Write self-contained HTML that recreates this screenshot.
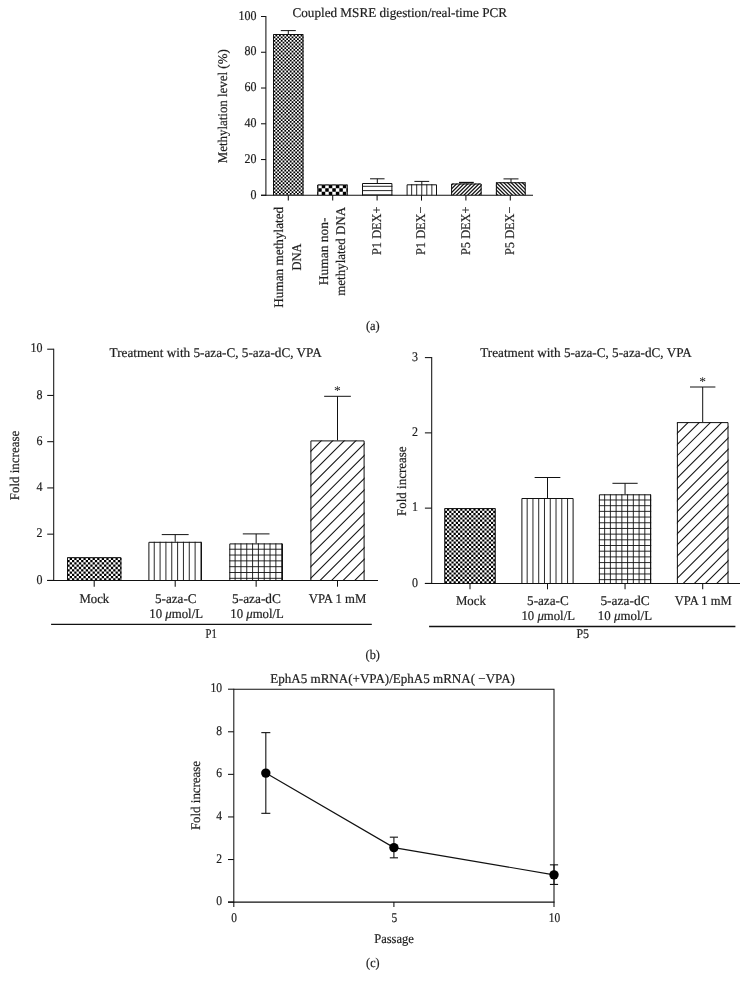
<!DOCTYPE html>
<html><head><meta charset="utf-8"><title>Figure</title>
<style>html,body{margin:0;padding:0;background:#fff}svg{display:block;will-change:transform}text{text-rendering:geometricPrecision;stroke:#1c1c1c;stroke-width:0.2px;paint-order:stroke}</style>
</head><body>
<svg width="749" height="990" viewBox="0 0 749 990" font-family="'Liberation Serif', serif" fill="#1c1c1c">
<rect width="749" height="990" fill="#fff"/>
<clipPath id="c1"><rect x="273.00" y="34.00" width="30.50" height="161.30"/></clipPath>
<g clip-path="url(#c1)">
<rect x="273.00" y="34.00" width="30.50" height="161.30" fill="#fff"/>
<line x1="271.80" y1="31.90" x2="305.30" y2="31.90" stroke="#000" stroke-width="1.800" stroke-dasharray="1.800 1.800"/>
<line x1="270.00" y1="33.70" x2="305.30" y2="33.70" stroke="#000" stroke-width="1.800" stroke-dasharray="1.800 1.800"/>
<line x1="271.80" y1="35.50" x2="305.30" y2="35.50" stroke="#000" stroke-width="1.800" stroke-dasharray="1.800 1.800"/>
<line x1="270.00" y1="37.30" x2="305.30" y2="37.30" stroke="#000" stroke-width="1.800" stroke-dasharray="1.800 1.800"/>
<line x1="271.80" y1="39.10" x2="305.30" y2="39.10" stroke="#000" stroke-width="1.800" stroke-dasharray="1.800 1.800"/>
<line x1="270.00" y1="40.90" x2="305.30" y2="40.90" stroke="#000" stroke-width="1.800" stroke-dasharray="1.800 1.800"/>
<line x1="271.80" y1="42.70" x2="305.30" y2="42.70" stroke="#000" stroke-width="1.800" stroke-dasharray="1.800 1.800"/>
<line x1="270.00" y1="44.50" x2="305.30" y2="44.50" stroke="#000" stroke-width="1.800" stroke-dasharray="1.800 1.800"/>
<line x1="271.80" y1="46.30" x2="305.30" y2="46.30" stroke="#000" stroke-width="1.800" stroke-dasharray="1.800 1.800"/>
<line x1="270.00" y1="48.10" x2="305.30" y2="48.10" stroke="#000" stroke-width="1.800" stroke-dasharray="1.800 1.800"/>
<line x1="271.80" y1="49.90" x2="305.30" y2="49.90" stroke="#000" stroke-width="1.800" stroke-dasharray="1.800 1.800"/>
<line x1="270.00" y1="51.70" x2="305.30" y2="51.70" stroke="#000" stroke-width="1.800" stroke-dasharray="1.800 1.800"/>
<line x1="271.80" y1="53.50" x2="305.30" y2="53.50" stroke="#000" stroke-width="1.800" stroke-dasharray="1.800 1.800"/>
<line x1="270.00" y1="55.30" x2="305.30" y2="55.30" stroke="#000" stroke-width="1.800" stroke-dasharray="1.800 1.800"/>
<line x1="271.80" y1="57.10" x2="305.30" y2="57.10" stroke="#000" stroke-width="1.800" stroke-dasharray="1.800 1.800"/>
<line x1="270.00" y1="58.90" x2="305.30" y2="58.90" stroke="#000" stroke-width="1.800" stroke-dasharray="1.800 1.800"/>
<line x1="271.80" y1="60.70" x2="305.30" y2="60.70" stroke="#000" stroke-width="1.800" stroke-dasharray="1.800 1.800"/>
<line x1="270.00" y1="62.50" x2="305.30" y2="62.50" stroke="#000" stroke-width="1.800" stroke-dasharray="1.800 1.800"/>
<line x1="271.80" y1="64.30" x2="305.30" y2="64.30" stroke="#000" stroke-width="1.800" stroke-dasharray="1.800 1.800"/>
<line x1="270.00" y1="66.10" x2="305.30" y2="66.10" stroke="#000" stroke-width="1.800" stroke-dasharray="1.800 1.800"/>
<line x1="271.80" y1="67.90" x2="305.30" y2="67.90" stroke="#000" stroke-width="1.800" stroke-dasharray="1.800 1.800"/>
<line x1="270.00" y1="69.70" x2="305.30" y2="69.70" stroke="#000" stroke-width="1.800" stroke-dasharray="1.800 1.800"/>
<line x1="271.80" y1="71.50" x2="305.30" y2="71.50" stroke="#000" stroke-width="1.800" stroke-dasharray="1.800 1.800"/>
<line x1="270.00" y1="73.30" x2="305.30" y2="73.30" stroke="#000" stroke-width="1.800" stroke-dasharray="1.800 1.800"/>
<line x1="271.80" y1="75.10" x2="305.30" y2="75.10" stroke="#000" stroke-width="1.800" stroke-dasharray="1.800 1.800"/>
<line x1="270.00" y1="76.90" x2="305.30" y2="76.90" stroke="#000" stroke-width="1.800" stroke-dasharray="1.800 1.800"/>
<line x1="271.80" y1="78.70" x2="305.30" y2="78.70" stroke="#000" stroke-width="1.800" stroke-dasharray="1.800 1.800"/>
<line x1="270.00" y1="80.50" x2="305.30" y2="80.50" stroke="#000" stroke-width="1.800" stroke-dasharray="1.800 1.800"/>
<line x1="271.80" y1="82.30" x2="305.30" y2="82.30" stroke="#000" stroke-width="1.800" stroke-dasharray="1.800 1.800"/>
<line x1="270.00" y1="84.10" x2="305.30" y2="84.10" stroke="#000" stroke-width="1.800" stroke-dasharray="1.800 1.800"/>
<line x1="271.80" y1="85.90" x2="305.30" y2="85.90" stroke="#000" stroke-width="1.800" stroke-dasharray="1.800 1.800"/>
<line x1="270.00" y1="87.70" x2="305.30" y2="87.70" stroke="#000" stroke-width="1.800" stroke-dasharray="1.800 1.800"/>
<line x1="271.80" y1="89.50" x2="305.30" y2="89.50" stroke="#000" stroke-width="1.800" stroke-dasharray="1.800 1.800"/>
<line x1="270.00" y1="91.30" x2="305.30" y2="91.30" stroke="#000" stroke-width="1.800" stroke-dasharray="1.800 1.800"/>
<line x1="271.80" y1="93.10" x2="305.30" y2="93.10" stroke="#000" stroke-width="1.800" stroke-dasharray="1.800 1.800"/>
<line x1="270.00" y1="94.90" x2="305.30" y2="94.90" stroke="#000" stroke-width="1.800" stroke-dasharray="1.800 1.800"/>
<line x1="271.80" y1="96.70" x2="305.30" y2="96.70" stroke="#000" stroke-width="1.800" stroke-dasharray="1.800 1.800"/>
<line x1="270.00" y1="98.50" x2="305.30" y2="98.50" stroke="#000" stroke-width="1.800" stroke-dasharray="1.800 1.800"/>
<line x1="271.80" y1="100.30" x2="305.30" y2="100.30" stroke="#000" stroke-width="1.800" stroke-dasharray="1.800 1.800"/>
<line x1="270.00" y1="102.10" x2="305.30" y2="102.10" stroke="#000" stroke-width="1.800" stroke-dasharray="1.800 1.800"/>
<line x1="271.80" y1="103.90" x2="305.30" y2="103.90" stroke="#000" stroke-width="1.800" stroke-dasharray="1.800 1.800"/>
<line x1="270.00" y1="105.70" x2="305.30" y2="105.70" stroke="#000" stroke-width="1.800" stroke-dasharray="1.800 1.800"/>
<line x1="271.80" y1="107.50" x2="305.30" y2="107.50" stroke="#000" stroke-width="1.800" stroke-dasharray="1.800 1.800"/>
<line x1="270.00" y1="109.30" x2="305.30" y2="109.30" stroke="#000" stroke-width="1.800" stroke-dasharray="1.800 1.800"/>
<line x1="271.80" y1="111.10" x2="305.30" y2="111.10" stroke="#000" stroke-width="1.800" stroke-dasharray="1.800 1.800"/>
<line x1="270.00" y1="112.90" x2="305.30" y2="112.90" stroke="#000" stroke-width="1.800" stroke-dasharray="1.800 1.800"/>
<line x1="271.80" y1="114.70" x2="305.30" y2="114.70" stroke="#000" stroke-width="1.800" stroke-dasharray="1.800 1.800"/>
<line x1="270.00" y1="116.50" x2="305.30" y2="116.50" stroke="#000" stroke-width="1.800" stroke-dasharray="1.800 1.800"/>
<line x1="271.80" y1="118.30" x2="305.30" y2="118.30" stroke="#000" stroke-width="1.800" stroke-dasharray="1.800 1.800"/>
<line x1="270.00" y1="120.10" x2="305.30" y2="120.10" stroke="#000" stroke-width="1.800" stroke-dasharray="1.800 1.800"/>
<line x1="271.80" y1="121.90" x2="305.30" y2="121.90" stroke="#000" stroke-width="1.800" stroke-dasharray="1.800 1.800"/>
<line x1="270.00" y1="123.70" x2="305.30" y2="123.70" stroke="#000" stroke-width="1.800" stroke-dasharray="1.800 1.800"/>
<line x1="271.80" y1="125.50" x2="305.30" y2="125.50" stroke="#000" stroke-width="1.800" stroke-dasharray="1.800 1.800"/>
<line x1="270.00" y1="127.30" x2="305.30" y2="127.30" stroke="#000" stroke-width="1.800" stroke-dasharray="1.800 1.800"/>
<line x1="271.80" y1="129.10" x2="305.30" y2="129.10" stroke="#000" stroke-width="1.800" stroke-dasharray="1.800 1.800"/>
<line x1="270.00" y1="130.90" x2="305.30" y2="130.90" stroke="#000" stroke-width="1.800" stroke-dasharray="1.800 1.800"/>
<line x1="271.80" y1="132.70" x2="305.30" y2="132.70" stroke="#000" stroke-width="1.800" stroke-dasharray="1.800 1.800"/>
<line x1="270.00" y1="134.50" x2="305.30" y2="134.50" stroke="#000" stroke-width="1.800" stroke-dasharray="1.800 1.800"/>
<line x1="271.80" y1="136.30" x2="305.30" y2="136.30" stroke="#000" stroke-width="1.800" stroke-dasharray="1.800 1.800"/>
<line x1="270.00" y1="138.10" x2="305.30" y2="138.10" stroke="#000" stroke-width="1.800" stroke-dasharray="1.800 1.800"/>
<line x1="271.80" y1="139.90" x2="305.30" y2="139.90" stroke="#000" stroke-width="1.800" stroke-dasharray="1.800 1.800"/>
<line x1="270.00" y1="141.70" x2="305.30" y2="141.70" stroke="#000" stroke-width="1.800" stroke-dasharray="1.800 1.800"/>
<line x1="271.80" y1="143.50" x2="305.30" y2="143.50" stroke="#000" stroke-width="1.800" stroke-dasharray="1.800 1.800"/>
<line x1="270.00" y1="145.30" x2="305.30" y2="145.30" stroke="#000" stroke-width="1.800" stroke-dasharray="1.800 1.800"/>
<line x1="271.80" y1="147.10" x2="305.30" y2="147.10" stroke="#000" stroke-width="1.800" stroke-dasharray="1.800 1.800"/>
<line x1="270.00" y1="148.90" x2="305.30" y2="148.90" stroke="#000" stroke-width="1.800" stroke-dasharray="1.800 1.800"/>
<line x1="271.80" y1="150.70" x2="305.30" y2="150.70" stroke="#000" stroke-width="1.800" stroke-dasharray="1.800 1.800"/>
<line x1="270.00" y1="152.50" x2="305.30" y2="152.50" stroke="#000" stroke-width="1.800" stroke-dasharray="1.800 1.800"/>
<line x1="271.80" y1="154.30" x2="305.30" y2="154.30" stroke="#000" stroke-width="1.800" stroke-dasharray="1.800 1.800"/>
<line x1="270.00" y1="156.10" x2="305.30" y2="156.10" stroke="#000" stroke-width="1.800" stroke-dasharray="1.800 1.800"/>
<line x1="271.80" y1="157.90" x2="305.30" y2="157.90" stroke="#000" stroke-width="1.800" stroke-dasharray="1.800 1.800"/>
<line x1="270.00" y1="159.70" x2="305.30" y2="159.70" stroke="#000" stroke-width="1.800" stroke-dasharray="1.800 1.800"/>
<line x1="271.80" y1="161.50" x2="305.30" y2="161.50" stroke="#000" stroke-width="1.800" stroke-dasharray="1.800 1.800"/>
<line x1="270.00" y1="163.30" x2="305.30" y2="163.30" stroke="#000" stroke-width="1.800" stroke-dasharray="1.800 1.800"/>
<line x1="271.80" y1="165.10" x2="305.30" y2="165.10" stroke="#000" stroke-width="1.800" stroke-dasharray="1.800 1.800"/>
<line x1="270.00" y1="166.90" x2="305.30" y2="166.90" stroke="#000" stroke-width="1.800" stroke-dasharray="1.800 1.800"/>
<line x1="271.80" y1="168.70" x2="305.30" y2="168.70" stroke="#000" stroke-width="1.800" stroke-dasharray="1.800 1.800"/>
<line x1="270.00" y1="170.50" x2="305.30" y2="170.50" stroke="#000" stroke-width="1.800" stroke-dasharray="1.800 1.800"/>
<line x1="271.80" y1="172.30" x2="305.30" y2="172.30" stroke="#000" stroke-width="1.800" stroke-dasharray="1.800 1.800"/>
<line x1="270.00" y1="174.10" x2="305.30" y2="174.10" stroke="#000" stroke-width="1.800" stroke-dasharray="1.800 1.800"/>
<line x1="271.80" y1="175.90" x2="305.30" y2="175.90" stroke="#000" stroke-width="1.800" stroke-dasharray="1.800 1.800"/>
<line x1="270.00" y1="177.70" x2="305.30" y2="177.70" stroke="#000" stroke-width="1.800" stroke-dasharray="1.800 1.800"/>
<line x1="271.80" y1="179.50" x2="305.30" y2="179.50" stroke="#000" stroke-width="1.800" stroke-dasharray="1.800 1.800"/>
<line x1="270.00" y1="181.30" x2="305.30" y2="181.30" stroke="#000" stroke-width="1.800" stroke-dasharray="1.800 1.800"/>
<line x1="271.80" y1="183.10" x2="305.30" y2="183.10" stroke="#000" stroke-width="1.800" stroke-dasharray="1.800 1.800"/>
<line x1="270.00" y1="184.90" x2="305.30" y2="184.90" stroke="#000" stroke-width="1.800" stroke-dasharray="1.800 1.800"/>
<line x1="271.80" y1="186.70" x2="305.30" y2="186.70" stroke="#000" stroke-width="1.800" stroke-dasharray="1.800 1.800"/>
<line x1="270.00" y1="188.50" x2="305.30" y2="188.50" stroke="#000" stroke-width="1.800" stroke-dasharray="1.800 1.800"/>
<line x1="271.80" y1="190.30" x2="305.30" y2="190.30" stroke="#000" stroke-width="1.800" stroke-dasharray="1.800 1.800"/>
<line x1="270.00" y1="192.10" x2="305.30" y2="192.10" stroke="#000" stroke-width="1.800" stroke-dasharray="1.800 1.800"/>
<line x1="271.80" y1="193.90" x2="305.30" y2="193.90" stroke="#000" stroke-width="1.800" stroke-dasharray="1.800 1.800"/>
<line x1="270.00" y1="195.70" x2="305.30" y2="195.70" stroke="#000" stroke-width="1.800" stroke-dasharray="1.800 1.800"/>
<line x1="271.80" y1="197.50" x2="305.30" y2="197.50" stroke="#000" stroke-width="1.800" stroke-dasharray="1.800 1.800"/>
</g>
<path d="M273.50 195.30V34.50H303.00V195.30" fill="none" stroke="#111" stroke-width="1.0"/>
<line x1="288.30" y1="30.60" x2="288.30" y2="34.00" stroke="#111" stroke-width="1.0"/>
<line x1="280.80" y1="30.60" x2="295.80" y2="30.60" stroke="#111" stroke-width="1.0"/>
<clipPath id="c2"><rect x="317.30" y="184.50" width="30.50" height="10.80"/></clipPath>
<g clip-path="url(#c2)">
<rect x="317.30" y="184.50" width="30.50" height="10.80" fill="#fff"/>
<line x1="314.68" y1="179.37" x2="351.32" y2="179.37" stroke="#000" stroke-width="3.520" stroke-dasharray="3.520 3.520"/>
<line x1="311.16" y1="182.89" x2="351.32" y2="182.89" stroke="#000" stroke-width="3.520" stroke-dasharray="3.520 3.520"/>
<line x1="314.68" y1="186.41" x2="351.32" y2="186.41" stroke="#000" stroke-width="3.520" stroke-dasharray="3.520 3.520"/>
<line x1="311.16" y1="189.93" x2="351.32" y2="189.93" stroke="#000" stroke-width="3.520" stroke-dasharray="3.520 3.520"/>
<line x1="314.68" y1="193.45" x2="351.32" y2="193.45" stroke="#000" stroke-width="3.520" stroke-dasharray="3.520 3.520"/>
<line x1="311.16" y1="196.97" x2="351.32" y2="196.97" stroke="#000" stroke-width="3.520" stroke-dasharray="3.520 3.520"/>
<line x1="314.68" y1="200.49" x2="351.32" y2="200.49" stroke="#000" stroke-width="3.520" stroke-dasharray="3.520 3.520"/>
</g>
<path d="M317.80 195.30V185.00H347.30V195.30" fill="none" stroke="#111" stroke-width="1.0"/>
<rect x="362.0" y="183.0" width="30.40" height="12.30" fill="#fff"/>
<line x1="362.00" y1="186.30" x2="392.40" y2="186.30" stroke="#111" stroke-width="0.9"/>
<line x1="362.00" y1="190.60" x2="392.40" y2="190.60" stroke="#111" stroke-width="0.9"/>
<line x1="362.00" y1="194.90" x2="392.40" y2="194.90" stroke="#111" stroke-width="0.9"/>
<path d="M362.50 195.30V183.50H391.90V195.30" fill="none" stroke="#111" stroke-width="1.0"/>
<line x1="377.30" y1="178.80" x2="377.30" y2="183.00" stroke="#111" stroke-width="1.0"/>
<line x1="370.05" y1="178.80" x2="384.55" y2="178.80" stroke="#111" stroke-width="1.0"/>
<rect x="406.60" y="184.30" width="30.40" height="11.00" fill="#fff"/>
<line x1="411.65" y1="184.30" x2="411.65" y2="195.30" stroke="#111" stroke-width="0.9"/>
<line x1="416.70" y1="184.30" x2="416.70" y2="195.30" stroke="#111" stroke-width="0.9"/>
<line x1="421.75" y1="184.30" x2="421.75" y2="195.30" stroke="#111" stroke-width="0.9"/>
<line x1="426.80" y1="184.30" x2="426.80" y2="195.30" stroke="#111" stroke-width="0.9"/>
<line x1="431.85" y1="184.30" x2="431.85" y2="195.30" stroke="#111" stroke-width="0.9"/>
<path d="M407.10 195.30V184.80H436.50V195.30" fill="none" stroke="#111" stroke-width="1.0"/>
<line x1="421.80" y1="181.40" x2="421.80" y2="184.30" stroke="#111" stroke-width="1.0"/>
<line x1="414.40" y1="181.40" x2="429.20" y2="181.40" stroke="#111" stroke-width="1.0"/>
<clipPath id="c3"><rect x="451.10" y="183.50" width="30.50" height="11.80"/></clipPath>
<rect x="451.10" y="183.50" width="30.50" height="11.80" fill="#fff"/>
<g clip-path="url(#c3)" stroke="#111" stroke-width="1.25">
<line x1="450.10" y1="186.56" x2="482.60" y2="154.06"/>
<line x1="450.10" y1="190.30" x2="482.60" y2="157.80"/>
<line x1="450.10" y1="194.04" x2="482.60" y2="161.54"/>
<line x1="450.10" y1="197.78" x2="482.60" y2="165.28"/>
<line x1="450.10" y1="201.52" x2="482.60" y2="169.02"/>
<line x1="450.10" y1="205.26" x2="482.60" y2="172.76"/>
<line x1="450.10" y1="209.00" x2="482.60" y2="176.50"/>
<line x1="450.10" y1="212.74" x2="482.60" y2="180.24"/>
<line x1="450.10" y1="216.48" x2="482.60" y2="183.98"/>
<line x1="450.10" y1="220.22" x2="482.60" y2="187.72"/>
<line x1="450.10" y1="223.96" x2="482.60" y2="191.46"/>
</g>
<path d="M451.60 195.30V184.00H481.10V195.30" fill="none" stroke="#111" stroke-width="1.0"/>
<line x1="466.40" y1="182.50" x2="466.40" y2="183.50" stroke="#111" stroke-width="1.3"/>
<line x1="459.00" y1="182.50" x2="473.80" y2="182.50" stroke="#111" stroke-width="1.3"/>
<clipPath id="c4"><rect x="495.90" y="182.25" width="29.80" height="13.05"/></clipPath>
<rect x="495.90" y="182.25" width="29.80" height="13.05" fill="#fff"/>
<g clip-path="url(#c4)" stroke="#111" stroke-width="1.25">
<line x1="494.90" y1="192.34" x2="526.70" y2="224.14"/>
<line x1="494.90" y1="188.63" x2="526.70" y2="220.43"/>
<line x1="494.90" y1="184.92" x2="526.70" y2="216.72"/>
<line x1="494.90" y1="181.21" x2="526.70" y2="213.01"/>
<line x1="494.90" y1="177.50" x2="526.70" y2="209.30"/>
<line x1="494.90" y1="173.79" x2="526.70" y2="205.59"/>
<line x1="494.90" y1="170.08" x2="526.70" y2="201.88"/>
<line x1="494.90" y1="166.37" x2="526.70" y2="198.17"/>
<line x1="494.90" y1="162.66" x2="526.70" y2="194.46"/>
<line x1="494.90" y1="158.95" x2="526.70" y2="190.75"/>
<line x1="494.90" y1="155.24" x2="526.70" y2="187.04"/>
<line x1="494.90" y1="151.53" x2="526.70" y2="183.33"/>
</g>
<path d="M496.40 195.30V182.75H525.20V195.30" fill="none" stroke="#111" stroke-width="1.0"/>
<line x1="511.00" y1="178.90" x2="511.00" y2="182.25" stroke="#111" stroke-width="1.0"/>
<line x1="503.50" y1="178.90" x2="518.50" y2="178.90" stroke="#111" stroke-width="1.0"/>
<line x1="265.90" y1="16.00" x2="265.90" y2="195.80" stroke="#111" stroke-width="1.05"/>
<line x1="261.00" y1="195.30" x2="533.00" y2="195.30" stroke="#111" stroke-width="1.05"/>
<line x1="261.00" y1="195.30" x2="265.90" y2="195.30" stroke="#111" stroke-width="1.05"/>
<text x="256.60" y="198.50" font-size="13.3" text-anchor="end" textLength="6.0" lengthAdjust="spacingAndGlyphs">0</text>
<line x1="261.00" y1="159.54" x2="265.90" y2="159.54" stroke="#111" stroke-width="1.05"/>
<text x="256.60" y="162.74" font-size="13.3" text-anchor="end" textLength="12.0" lengthAdjust="spacingAndGlyphs">20</text>
<line x1="261.00" y1="123.78" x2="265.90" y2="123.78" stroke="#111" stroke-width="1.05"/>
<text x="256.60" y="126.98" font-size="13.3" text-anchor="end" textLength="12.0" lengthAdjust="spacingAndGlyphs">40</text>
<line x1="261.00" y1="88.02" x2="265.90" y2="88.02" stroke="#111" stroke-width="1.05"/>
<text x="256.60" y="91.22" font-size="13.3" text-anchor="end" textLength="12.0" lengthAdjust="spacingAndGlyphs">60</text>
<line x1="261.00" y1="52.26" x2="265.90" y2="52.26" stroke="#111" stroke-width="1.05"/>
<text x="256.60" y="55.46" font-size="13.3" text-anchor="end" textLength="12.0" lengthAdjust="spacingAndGlyphs">80</text>
<line x1="261.00" y1="16.50" x2="265.90" y2="16.50" stroke="#111" stroke-width="1.05"/>
<text x="256.60" y="19.70" font-size="13.3" text-anchor="end" textLength="18.0" lengthAdjust="spacingAndGlyphs">100</text>
<line x1="288.30" y1="195.30" x2="288.30" y2="200.60" stroke="#111" stroke-width="1.05"/>
<line x1="332.70" y1="195.30" x2="332.70" y2="200.60" stroke="#111" stroke-width="1.05"/>
<line x1="377.10" y1="195.30" x2="377.10" y2="200.60" stroke="#111" stroke-width="1.05"/>
<line x1="421.50" y1="195.30" x2="421.50" y2="200.60" stroke="#111" stroke-width="1.05"/>
<line x1="465.90" y1="195.30" x2="465.90" y2="200.60" stroke="#111" stroke-width="1.05"/>
<line x1="510.30" y1="195.30" x2="510.30" y2="200.60" stroke="#111" stroke-width="1.05"/>
<text x="292.50" y="17.10" font-size="13.3" text-anchor="start" textLength="214.5" lengthAdjust="spacingAndGlyphs">Coupled MSRE digestion/real-time PCR</text>
<text x="226.80" y="163.30" font-size="13.3" text-anchor="start" textLength="114.0" lengthAdjust="spacingAndGlyphs" transform="rotate(-90 226.80 163.30)">Methylation level (%)</text>
<text x="282.60" y="307.70" font-size="13.3" text-anchor="start" textLength="100.9" lengthAdjust="spacingAndGlyphs" transform="rotate(-90 282.60 307.70)">Human methylated</text>
<text x="301.10" y="270.40" font-size="13.3" text-anchor="start" textLength="26.9" lengthAdjust="spacingAndGlyphs" transform="rotate(-90 301.10 270.40)">DNA</text>
<text x="328.40" y="285.30" font-size="13.3" text-anchor="start" textLength="67.9" lengthAdjust="spacingAndGlyphs" transform="rotate(-90 328.40 285.30)">Human non-</text>
<text x="345.00" y="295.80" font-size="13.3" text-anchor="start" textLength="89.0" lengthAdjust="spacingAndGlyphs" transform="rotate(-90 345.00 295.80)">methylated DNA</text>
<text x="381.00" y="255.00" font-size="13.3" text-anchor="start" textLength="48.5" lengthAdjust="spacingAndGlyphs" transform="rotate(-90 381.00 255.00)">P1 DEX+</text>
<text x="425.40" y="255.00" font-size="13.3" text-anchor="start" textLength="48.5" lengthAdjust="spacingAndGlyphs" transform="rotate(-90 425.40 255.00)">P1 DEX−</text>
<text x="469.90" y="255.00" font-size="13.3" text-anchor="start" textLength="48.5" lengthAdjust="spacingAndGlyphs" transform="rotate(-90 469.90 255.00)">P5 DEX+</text>
<text x="514.30" y="255.00" font-size="13.3" text-anchor="start" textLength="48.5" lengthAdjust="spacingAndGlyphs" transform="rotate(-90 514.30 255.00)">P5 DEX−</text>
<text x="365.90" y="330.10" font-size="13.3" text-anchor="start" textLength="13.8" lengthAdjust="spacingAndGlyphs">(a)</text>
<clipPath id="c5"><rect x="67.00" y="557.20" width="54.40" height="23.20"/></clipPath>
<g clip-path="url(#c5)">
<rect x="67.00" y="557.20" width="54.40" height="23.20" fill="#fff"/>
<line x1="65.11" y1="554.26" x2="123.69" y2="554.26" stroke="#000" stroke-width="2.290" stroke-dasharray="2.290 2.290"/>
<line x1="62.82" y1="556.56" x2="123.69" y2="556.56" stroke="#000" stroke-width="2.290" stroke-dasharray="2.290 2.290"/>
<line x1="65.11" y1="558.85" x2="123.69" y2="558.85" stroke="#000" stroke-width="2.290" stroke-dasharray="2.290 2.290"/>
<line x1="62.82" y1="561.13" x2="123.69" y2="561.13" stroke="#000" stroke-width="2.290" stroke-dasharray="2.290 2.290"/>
<line x1="65.11" y1="563.43" x2="123.69" y2="563.43" stroke="#000" stroke-width="2.290" stroke-dasharray="2.290 2.290"/>
<line x1="62.82" y1="565.72" x2="123.69" y2="565.72" stroke="#000" stroke-width="2.290" stroke-dasharray="2.290 2.290"/>
<line x1="65.11" y1="568.00" x2="123.69" y2="568.00" stroke="#000" stroke-width="2.290" stroke-dasharray="2.290 2.290"/>
<line x1="62.82" y1="570.30" x2="123.69" y2="570.30" stroke="#000" stroke-width="2.290" stroke-dasharray="2.290 2.290"/>
<line x1="65.11" y1="572.59" x2="123.69" y2="572.59" stroke="#000" stroke-width="2.290" stroke-dasharray="2.290 2.290"/>
<line x1="62.82" y1="574.88" x2="123.69" y2="574.88" stroke="#000" stroke-width="2.290" stroke-dasharray="2.290 2.290"/>
<line x1="65.11" y1="577.17" x2="123.69" y2="577.17" stroke="#000" stroke-width="2.290" stroke-dasharray="2.290 2.290"/>
<line x1="62.82" y1="579.46" x2="123.69" y2="579.46" stroke="#000" stroke-width="2.290" stroke-dasharray="2.290 2.290"/>
<line x1="65.11" y1="581.75" x2="123.69" y2="581.75" stroke="#000" stroke-width="2.290" stroke-dasharray="2.290 2.290"/>
</g>
<path d="M67.50 580.40V557.70H120.90V580.40" fill="none" stroke="#111" stroke-width="1.0"/>
<rect x="148.40" y="541.80" width="53.60" height="38.60" fill="#fff"/>
<line x1="154.24" y1="541.80" x2="154.24" y2="580.40" stroke="#111" stroke-width="0.9"/>
<line x1="160.08" y1="541.80" x2="160.08" y2="580.40" stroke="#111" stroke-width="0.9"/>
<line x1="165.92" y1="541.80" x2="165.92" y2="580.40" stroke="#111" stroke-width="0.9"/>
<line x1="171.76" y1="541.80" x2="171.76" y2="580.40" stroke="#111" stroke-width="0.9"/>
<line x1="177.60" y1="541.80" x2="177.60" y2="580.40" stroke="#111" stroke-width="0.9"/>
<line x1="183.44" y1="541.80" x2="183.44" y2="580.40" stroke="#111" stroke-width="0.9"/>
<line x1="189.28" y1="541.80" x2="189.28" y2="580.40" stroke="#111" stroke-width="0.9"/>
<line x1="195.12" y1="541.80" x2="195.12" y2="580.40" stroke="#111" stroke-width="0.9"/>
<line x1="200.96" y1="541.80" x2="200.96" y2="580.40" stroke="#111" stroke-width="0.9"/>
<path d="M148.90 580.40V542.30H201.50V580.40" fill="none" stroke="#111" stroke-width="1.0"/>
<line x1="175.20" y1="534.60" x2="175.20" y2="541.80" stroke="#111" stroke-width="1.0"/>
<line x1="161.75" y1="534.60" x2="188.65" y2="534.60" stroke="#111" stroke-width="1.0"/>
<rect x="229.30" y="543.40" width="53.70" height="37.00" fill="#fff"/>
<line x1="235.12" y1="543.40" x2="235.12" y2="580.40" stroke="#111" stroke-width="0.9"/>
<line x1="240.94" y1="543.40" x2="240.94" y2="580.40" stroke="#111" stroke-width="0.9"/>
<line x1="246.76" y1="543.40" x2="246.76" y2="580.40" stroke="#111" stroke-width="0.9"/>
<line x1="252.58" y1="543.40" x2="252.58" y2="580.40" stroke="#111" stroke-width="0.9"/>
<line x1="258.40" y1="543.40" x2="258.40" y2="580.40" stroke="#111" stroke-width="0.9"/>
<line x1="264.22" y1="543.40" x2="264.22" y2="580.40" stroke="#111" stroke-width="0.9"/>
<line x1="270.04" y1="543.40" x2="270.04" y2="580.40" stroke="#111" stroke-width="0.9"/>
<line x1="275.86" y1="543.40" x2="275.86" y2="580.40" stroke="#111" stroke-width="0.9"/>
<line x1="281.68" y1="543.40" x2="281.68" y2="580.40" stroke="#111" stroke-width="0.9"/>
<line x1="229.30" y1="549.22" x2="283.00" y2="549.22" stroke="#111" stroke-width="0.9"/>
<line x1="229.30" y1="555.04" x2="283.00" y2="555.04" stroke="#111" stroke-width="0.9"/>
<line x1="229.30" y1="560.86" x2="283.00" y2="560.86" stroke="#111" stroke-width="0.9"/>
<line x1="229.30" y1="566.68" x2="283.00" y2="566.68" stroke="#111" stroke-width="0.9"/>
<line x1="229.30" y1="572.50" x2="283.00" y2="572.50" stroke="#111" stroke-width="0.9"/>
<line x1="229.30" y1="578.32" x2="283.00" y2="578.32" stroke="#111" stroke-width="0.9"/>
<path d="M229.80 580.40V543.90H282.50V580.40" fill="none" stroke="#111" stroke-width="1.0"/>
<line x1="256.15" y1="533.90" x2="256.15" y2="543.40" stroke="#111" stroke-width="1.0"/>
<line x1="242.80" y1="533.90" x2="269.50" y2="533.90" stroke="#111" stroke-width="1.0"/>
<clipPath id="c6"><rect x="310.40" y="440.40" width="54.20" height="140.00"/></clipPath>
<rect x="310.40" y="440.40" width="54.20" height="140.00" fill="#fff"/>
<g clip-path="url(#c6)" stroke="#111" stroke-width="1.05">
<line x1="309.40" y1="452.50" x2="365.60" y2="396.30"/>
<line x1="309.40" y1="464.05" x2="365.60" y2="407.85"/>
<line x1="309.40" y1="475.60" x2="365.60" y2="419.40"/>
<line x1="309.40" y1="487.15" x2="365.60" y2="430.95"/>
<line x1="309.40" y1="498.70" x2="365.60" y2="442.50"/>
<line x1="309.40" y1="510.25" x2="365.60" y2="454.05"/>
<line x1="309.40" y1="521.80" x2="365.60" y2="465.60"/>
<line x1="309.40" y1="533.35" x2="365.60" y2="477.15"/>
<line x1="309.40" y1="544.90" x2="365.60" y2="488.70"/>
<line x1="309.40" y1="556.45" x2="365.60" y2="500.25"/>
<line x1="309.40" y1="568.00" x2="365.60" y2="511.80"/>
<line x1="309.40" y1="579.55" x2="365.60" y2="523.35"/>
<line x1="309.40" y1="591.10" x2="365.60" y2="534.90"/>
<line x1="309.40" y1="602.65" x2="365.60" y2="546.45"/>
<line x1="309.40" y1="614.20" x2="365.60" y2="558.00"/>
<line x1="309.40" y1="625.75" x2="365.60" y2="569.55"/>
</g>
<path d="M310.90 580.40V440.90H364.10V580.40" fill="none" stroke="#111" stroke-width="1.0"/>
<line x1="337.50" y1="396.30" x2="337.50" y2="440.40" stroke="#111" stroke-width="1.0"/>
<line x1="324.15" y1="396.30" x2="350.85" y2="396.30" stroke="#111" stroke-width="1.0"/>
<line x1="53.70" y1="348.70" x2="53.70" y2="580.90" stroke="#111" stroke-width="1.05"/>
<line x1="47.20" y1="580.40" x2="378.00" y2="580.40" stroke="#111" stroke-width="1.05"/>
<line x1="47.20" y1="580.40" x2="53.70" y2="580.40" stroke="#111" stroke-width="1.05"/>
<text x="42.40" y="583.50" font-size="13.3" text-anchor="end" textLength="6.0" lengthAdjust="spacingAndGlyphs">0</text>
<line x1="47.20" y1="534.16" x2="53.70" y2="534.16" stroke="#111" stroke-width="1.05"/>
<text x="42.40" y="537.26" font-size="13.3" text-anchor="end" textLength="6.0" lengthAdjust="spacingAndGlyphs">2</text>
<line x1="47.20" y1="487.92" x2="53.70" y2="487.92" stroke="#111" stroke-width="1.05"/>
<text x="42.40" y="491.02" font-size="13.3" text-anchor="end" textLength="6.0" lengthAdjust="spacingAndGlyphs">4</text>
<line x1="47.20" y1="441.68" x2="53.70" y2="441.68" stroke="#111" stroke-width="1.05"/>
<text x="42.40" y="444.78" font-size="13.3" text-anchor="end" textLength="6.0" lengthAdjust="spacingAndGlyphs">6</text>
<line x1="47.20" y1="395.44" x2="53.70" y2="395.44" stroke="#111" stroke-width="1.05"/>
<text x="42.40" y="398.54" font-size="13.3" text-anchor="end" textLength="6.0" lengthAdjust="spacingAndGlyphs">8</text>
<line x1="47.20" y1="349.20" x2="53.70" y2="349.20" stroke="#111" stroke-width="1.05"/>
<text x="42.40" y="352.30" font-size="13.3" text-anchor="end" textLength="12.0" lengthAdjust="spacingAndGlyphs">10</text>
<line x1="94.20" y1="580.40" x2="94.20" y2="586.70" stroke="#111" stroke-width="1.05"/>
<line x1="175.20" y1="580.40" x2="175.20" y2="586.70" stroke="#111" stroke-width="1.05"/>
<line x1="256.15" y1="580.40" x2="256.15" y2="586.70" stroke="#111" stroke-width="1.05"/>
<line x1="337.50" y1="580.40" x2="337.50" y2="586.70" stroke="#111" stroke-width="1.05"/>
<text x="109.60" y="356.70" font-size="13.3" text-anchor="start" textLength="212.2" lengthAdjust="spacingAndGlyphs">Treatment with 5-aza-C, 5-aza-dC, VPA</text>
<text x="19.30" y="500.25" font-size="13.3" text-anchor="start" textLength="69.5" lengthAdjust="spacingAndGlyphs" transform="rotate(-90 19.30 500.25)">Fold increase</text>
<text x="79.40" y="603.30" font-size="13.3" text-anchor="start" textLength="29.8" lengthAdjust="spacingAndGlyphs">Mock</text>
<text x="155.00" y="603.30" font-size="13.3" text-anchor="start" textLength="41.5" lengthAdjust="spacingAndGlyphs">5-aza-C</text>
<text x="149.30" y="617.50" font-size="13.3" text-anchor="start" textLength="53.8" lengthAdjust="spacingAndGlyphs">10 <tspan font-style="italic">μ</tspan>mol/L</text>
<text x="232.10" y="603.30" font-size="13.3" text-anchor="start" textLength="48.8" lengthAdjust="spacingAndGlyphs">5-aza-dC</text>
<text x="230.30" y="617.50" font-size="13.3" text-anchor="start" textLength="53.6" lengthAdjust="spacingAndGlyphs">10 <tspan font-style="italic">μ</tspan>mol/L</text>
<text x="308.75" y="603.30" font-size="13.3" text-anchor="start" textLength="57.6" lengthAdjust="spacingAndGlyphs">VPA 1 mM</text>
<line x1="51.10" y1="624.40" x2="371.80" y2="624.40" stroke="#111" stroke-width="1.3"/>
<text x="205.60" y="637.60" font-size="13.3" text-anchor="start" textLength="11.3" lengthAdjust="spacingAndGlyphs">P1</text>
<text x="337.30" y="394.50" font-size="13.5" text-anchor="middle" style="stroke-width:0">*</text>
<clipPath id="c7"><rect x="444.30" y="508.10" width="51.40" height="75.30"/></clipPath>
<g clip-path="url(#c7)">
<rect x="444.30" y="508.10" width="51.40" height="75.30" fill="#fff"/>
<line x1="442.60" y1="505.30" x2="497.90" y2="505.30" stroke="#000" stroke-width="2.200" stroke-dasharray="2.200 2.200"/>
<line x1="440.40" y1="507.50" x2="497.90" y2="507.50" stroke="#000" stroke-width="2.200" stroke-dasharray="2.200 2.200"/>
<line x1="442.60" y1="509.70" x2="497.90" y2="509.70" stroke="#000" stroke-width="2.200" stroke-dasharray="2.200 2.200"/>
<line x1="440.40" y1="511.90" x2="497.90" y2="511.90" stroke="#000" stroke-width="2.200" stroke-dasharray="2.200 2.200"/>
<line x1="442.60" y1="514.10" x2="497.90" y2="514.10" stroke="#000" stroke-width="2.200" stroke-dasharray="2.200 2.200"/>
<line x1="440.40" y1="516.30" x2="497.90" y2="516.30" stroke="#000" stroke-width="2.200" stroke-dasharray="2.200 2.200"/>
<line x1="442.60" y1="518.50" x2="497.90" y2="518.50" stroke="#000" stroke-width="2.200" stroke-dasharray="2.200 2.200"/>
<line x1="440.40" y1="520.70" x2="497.90" y2="520.70" stroke="#000" stroke-width="2.200" stroke-dasharray="2.200 2.200"/>
<line x1="442.60" y1="522.90" x2="497.90" y2="522.90" stroke="#000" stroke-width="2.200" stroke-dasharray="2.200 2.200"/>
<line x1="440.40" y1="525.10" x2="497.90" y2="525.10" stroke="#000" stroke-width="2.200" stroke-dasharray="2.200 2.200"/>
<line x1="442.60" y1="527.30" x2="497.90" y2="527.30" stroke="#000" stroke-width="2.200" stroke-dasharray="2.200 2.200"/>
<line x1="440.40" y1="529.50" x2="497.90" y2="529.50" stroke="#000" stroke-width="2.200" stroke-dasharray="2.200 2.200"/>
<line x1="442.60" y1="531.70" x2="497.90" y2="531.70" stroke="#000" stroke-width="2.200" stroke-dasharray="2.200 2.200"/>
<line x1="440.40" y1="533.90" x2="497.90" y2="533.90" stroke="#000" stroke-width="2.200" stroke-dasharray="2.200 2.200"/>
<line x1="442.60" y1="536.10" x2="497.90" y2="536.10" stroke="#000" stroke-width="2.200" stroke-dasharray="2.200 2.200"/>
<line x1="440.40" y1="538.30" x2="497.90" y2="538.30" stroke="#000" stroke-width="2.200" stroke-dasharray="2.200 2.200"/>
<line x1="442.60" y1="540.50" x2="497.90" y2="540.50" stroke="#000" stroke-width="2.200" stroke-dasharray="2.200 2.200"/>
<line x1="440.40" y1="542.70" x2="497.90" y2="542.70" stroke="#000" stroke-width="2.200" stroke-dasharray="2.200 2.200"/>
<line x1="442.60" y1="544.90" x2="497.90" y2="544.90" stroke="#000" stroke-width="2.200" stroke-dasharray="2.200 2.200"/>
<line x1="440.40" y1="547.10" x2="497.90" y2="547.10" stroke="#000" stroke-width="2.200" stroke-dasharray="2.200 2.200"/>
<line x1="442.60" y1="549.30" x2="497.90" y2="549.30" stroke="#000" stroke-width="2.200" stroke-dasharray="2.200 2.200"/>
<line x1="440.40" y1="551.50" x2="497.90" y2="551.50" stroke="#000" stroke-width="2.200" stroke-dasharray="2.200 2.200"/>
<line x1="442.60" y1="553.70" x2="497.90" y2="553.70" stroke="#000" stroke-width="2.200" stroke-dasharray="2.200 2.200"/>
<line x1="440.40" y1="555.90" x2="497.90" y2="555.90" stroke="#000" stroke-width="2.200" stroke-dasharray="2.200 2.200"/>
<line x1="442.60" y1="558.10" x2="497.90" y2="558.10" stroke="#000" stroke-width="2.200" stroke-dasharray="2.200 2.200"/>
<line x1="440.40" y1="560.30" x2="497.90" y2="560.30" stroke="#000" stroke-width="2.200" stroke-dasharray="2.200 2.200"/>
<line x1="442.60" y1="562.50" x2="497.90" y2="562.50" stroke="#000" stroke-width="2.200" stroke-dasharray="2.200 2.200"/>
<line x1="440.40" y1="564.70" x2="497.90" y2="564.70" stroke="#000" stroke-width="2.200" stroke-dasharray="2.200 2.200"/>
<line x1="442.60" y1="566.90" x2="497.90" y2="566.90" stroke="#000" stroke-width="2.200" stroke-dasharray="2.200 2.200"/>
<line x1="440.40" y1="569.10" x2="497.90" y2="569.10" stroke="#000" stroke-width="2.200" stroke-dasharray="2.200 2.200"/>
<line x1="442.60" y1="571.30" x2="497.90" y2="571.30" stroke="#000" stroke-width="2.200" stroke-dasharray="2.200 2.200"/>
<line x1="440.40" y1="573.50" x2="497.90" y2="573.50" stroke="#000" stroke-width="2.200" stroke-dasharray="2.200 2.200"/>
<line x1="442.60" y1="575.70" x2="497.90" y2="575.70" stroke="#000" stroke-width="2.200" stroke-dasharray="2.200 2.200"/>
<line x1="440.40" y1="577.90" x2="497.90" y2="577.90" stroke="#000" stroke-width="2.200" stroke-dasharray="2.200 2.200"/>
<line x1="442.60" y1="580.10" x2="497.90" y2="580.10" stroke="#000" stroke-width="2.200" stroke-dasharray="2.200 2.200"/>
<line x1="440.40" y1="582.30" x2="497.90" y2="582.30" stroke="#000" stroke-width="2.200" stroke-dasharray="2.200 2.200"/>
<line x1="442.60" y1="584.50" x2="497.90" y2="584.50" stroke="#000" stroke-width="2.200" stroke-dasharray="2.200 2.200"/>
</g>
<path d="M444.80 583.40V508.60H495.20V583.40" fill="none" stroke="#111" stroke-width="1.0"/>
<rect x="521.40" y="498.00" width="52.20" height="85.40" fill="#fff"/>
<line x1="527.17" y1="498.00" x2="527.17" y2="583.40" stroke="#111" stroke-width="0.9"/>
<line x1="532.94" y1="498.00" x2="532.94" y2="583.40" stroke="#111" stroke-width="0.9"/>
<line x1="538.71" y1="498.00" x2="538.71" y2="583.40" stroke="#111" stroke-width="0.9"/>
<line x1="544.48" y1="498.00" x2="544.48" y2="583.40" stroke="#111" stroke-width="0.9"/>
<line x1="550.25" y1="498.00" x2="550.25" y2="583.40" stroke="#111" stroke-width="0.9"/>
<line x1="556.02" y1="498.00" x2="556.02" y2="583.40" stroke="#111" stroke-width="0.9"/>
<line x1="561.79" y1="498.00" x2="561.79" y2="583.40" stroke="#111" stroke-width="0.9"/>
<line x1="567.56" y1="498.00" x2="567.56" y2="583.40" stroke="#111" stroke-width="0.9"/>
<path d="M521.90 583.40V498.50H573.10V583.40" fill="none" stroke="#111" stroke-width="1.0"/>
<line x1="547.50" y1="477.50" x2="547.50" y2="498.00" stroke="#111" stroke-width="1.0"/>
<line x1="534.65" y1="477.50" x2="560.35" y2="477.50" stroke="#111" stroke-width="1.0"/>
<rect x="598.90" y="494.30" width="52.30" height="89.10" fill="#fff"/>
<line x1="604.64" y1="494.30" x2="604.64" y2="583.40" stroke="#111" stroke-width="0.9"/>
<line x1="610.38" y1="494.30" x2="610.38" y2="583.40" stroke="#111" stroke-width="0.9"/>
<line x1="616.12" y1="494.30" x2="616.12" y2="583.40" stroke="#111" stroke-width="0.9"/>
<line x1="621.86" y1="494.30" x2="621.86" y2="583.40" stroke="#111" stroke-width="0.9"/>
<line x1="627.60" y1="494.30" x2="627.60" y2="583.40" stroke="#111" stroke-width="0.9"/>
<line x1="633.34" y1="494.30" x2="633.34" y2="583.40" stroke="#111" stroke-width="0.9"/>
<line x1="639.08" y1="494.30" x2="639.08" y2="583.40" stroke="#111" stroke-width="0.9"/>
<line x1="644.82" y1="494.30" x2="644.82" y2="583.40" stroke="#111" stroke-width="0.9"/>
<line x1="650.56" y1="494.30" x2="650.56" y2="583.40" stroke="#111" stroke-width="0.9"/>
<line x1="598.90" y1="499.99" x2="651.20" y2="499.99" stroke="#111" stroke-width="0.9"/>
<line x1="598.90" y1="505.68" x2="651.20" y2="505.68" stroke="#111" stroke-width="0.9"/>
<line x1="598.90" y1="511.37" x2="651.20" y2="511.37" stroke="#111" stroke-width="0.9"/>
<line x1="598.90" y1="517.06" x2="651.20" y2="517.06" stroke="#111" stroke-width="0.9"/>
<line x1="598.90" y1="522.75" x2="651.20" y2="522.75" stroke="#111" stroke-width="0.9"/>
<line x1="598.90" y1="528.44" x2="651.20" y2="528.44" stroke="#111" stroke-width="0.9"/>
<line x1="598.90" y1="534.13" x2="651.20" y2="534.13" stroke="#111" stroke-width="0.9"/>
<line x1="598.90" y1="539.82" x2="651.20" y2="539.82" stroke="#111" stroke-width="0.9"/>
<line x1="598.90" y1="545.51" x2="651.20" y2="545.51" stroke="#111" stroke-width="0.9"/>
<line x1="598.90" y1="551.20" x2="651.20" y2="551.20" stroke="#111" stroke-width="0.9"/>
<line x1="598.90" y1="556.89" x2="651.20" y2="556.89" stroke="#111" stroke-width="0.9"/>
<line x1="598.90" y1="562.58" x2="651.20" y2="562.58" stroke="#111" stroke-width="0.9"/>
<line x1="598.90" y1="568.27" x2="651.20" y2="568.27" stroke="#111" stroke-width="0.9"/>
<line x1="598.90" y1="573.96" x2="651.20" y2="573.96" stroke="#111" stroke-width="0.9"/>
<line x1="598.90" y1="579.65" x2="651.20" y2="579.65" stroke="#111" stroke-width="0.9"/>
<path d="M599.40 583.40V494.80H650.70V583.40" fill="none" stroke="#111" stroke-width="1.0"/>
<line x1="625.05" y1="483.30" x2="625.05" y2="494.30" stroke="#111" stroke-width="1.0"/>
<line x1="612.45" y1="483.30" x2="637.65" y2="483.30" stroke="#111" stroke-width="1.0"/>
<clipPath id="c8"><rect x="676.90" y="422.10" width="51.60" height="161.30"/></clipPath>
<rect x="676.90" y="422.10" width="51.60" height="161.30" fill="#fff"/>
<g clip-path="url(#c8)" stroke="#111" stroke-width="1.05">
<line x1="675.90" y1="423.55" x2="729.50" y2="369.95"/>
<line x1="675.90" y1="434.70" x2="729.50" y2="381.10"/>
<line x1="675.90" y1="445.85" x2="729.50" y2="392.25"/>
<line x1="675.90" y1="457.00" x2="729.50" y2="403.40"/>
<line x1="675.90" y1="468.15" x2="729.50" y2="414.55"/>
<line x1="675.90" y1="479.30" x2="729.50" y2="425.70"/>
<line x1="675.90" y1="490.45" x2="729.50" y2="436.85"/>
<line x1="675.90" y1="501.60" x2="729.50" y2="448.00"/>
<line x1="675.90" y1="512.75" x2="729.50" y2="459.15"/>
<line x1="675.90" y1="523.90" x2="729.50" y2="470.30"/>
<line x1="675.90" y1="535.05" x2="729.50" y2="481.45"/>
<line x1="675.90" y1="546.20" x2="729.50" y2="492.60"/>
<line x1="675.90" y1="557.35" x2="729.50" y2="503.75"/>
<line x1="675.90" y1="568.50" x2="729.50" y2="514.90"/>
<line x1="675.90" y1="579.65" x2="729.50" y2="526.05"/>
<line x1="675.90" y1="590.80" x2="729.50" y2="537.20"/>
<line x1="675.90" y1="601.95" x2="729.50" y2="548.35"/>
<line x1="675.90" y1="613.10" x2="729.50" y2="559.50"/>
<line x1="675.90" y1="624.25" x2="729.50" y2="570.65"/>
<line x1="675.90" y1="635.40" x2="729.50" y2="581.80"/>
</g>
<path d="M677.40 583.40V422.60H728.00V583.40" fill="none" stroke="#111" stroke-width="1.0"/>
<line x1="702.70" y1="387.00" x2="702.70" y2="422.10" stroke="#111" stroke-width="1.0"/>
<line x1="690.00" y1="387.00" x2="715.40" y2="387.00" stroke="#111" stroke-width="1.0"/>
<line x1="431.70" y1="357.10" x2="431.70" y2="583.90" stroke="#111" stroke-width="1.05"/>
<line x1="424.90" y1="583.40" x2="740.00" y2="583.40" stroke="#111" stroke-width="1.05"/>
<line x1="424.90" y1="583.40" x2="431.70" y2="583.40" stroke="#111" stroke-width="1.05"/>
<text x="417.90" y="586.50" font-size="13.3" text-anchor="end" textLength="6.0" lengthAdjust="spacingAndGlyphs">0</text>
<line x1="424.90" y1="508.13" x2="431.70" y2="508.13" stroke="#111" stroke-width="1.05"/>
<text x="417.90" y="511.23" font-size="13.3" text-anchor="end" textLength="6.0" lengthAdjust="spacingAndGlyphs">1</text>
<line x1="424.90" y1="432.87" x2="431.70" y2="432.87" stroke="#111" stroke-width="1.05"/>
<text x="417.90" y="435.97" font-size="13.3" text-anchor="end" textLength="6.0" lengthAdjust="spacingAndGlyphs">2</text>
<line x1="424.90" y1="357.60" x2="431.70" y2="357.60" stroke="#111" stroke-width="1.05"/>
<text x="417.90" y="360.70" font-size="13.3" text-anchor="end" textLength="6.0" lengthAdjust="spacingAndGlyphs">3</text>
<line x1="470.00" y1="583.40" x2="470.00" y2="589.30" stroke="#111" stroke-width="1.05"/>
<line x1="547.50" y1="583.40" x2="547.50" y2="589.30" stroke="#111" stroke-width="1.05"/>
<line x1="625.05" y1="583.40" x2="625.05" y2="589.30" stroke="#111" stroke-width="1.05"/>
<line x1="702.70" y1="583.40" x2="702.70" y2="589.30" stroke="#111" stroke-width="1.05"/>
<text x="480.30" y="356.70" font-size="13.3" text-anchor="start" textLength="211.5" lengthAdjust="spacingAndGlyphs">Treatment with 5-aza-C, 5-aza-dC, VPA</text>
<text x="405.50" y="516.00" font-size="13.3" text-anchor="start" textLength="69.6" lengthAdjust="spacingAndGlyphs" transform="rotate(-90 405.50 516.00)">Fold increase</text>
<text x="455.90" y="605.10" font-size="13.3" text-anchor="start" textLength="29.9" lengthAdjust="spacingAndGlyphs">Mock</text>
<text x="527.10" y="605.10" font-size="13.3" text-anchor="start" textLength="41.6" lengthAdjust="spacingAndGlyphs">5-aza-C</text>
<text x="521.50" y="620.00" font-size="13.3" text-anchor="start" textLength="53.5" lengthAdjust="spacingAndGlyphs">10 <tspan font-style="italic">μ</tspan>mol/L</text>
<text x="600.40" y="605.10" font-size="13.3" text-anchor="start" textLength="49.2" lengthAdjust="spacingAndGlyphs">5-aza-dC</text>
<text x="597.85" y="620.00" font-size="13.3" text-anchor="start" textLength="54.2" lengthAdjust="spacingAndGlyphs">10 <tspan font-style="italic">μ</tspan>mol/L</text>
<text x="674.80" y="605.10" font-size="13.3" text-anchor="start" textLength="56.8" lengthAdjust="spacingAndGlyphs">VPA 1 mM</text>
<line x1="429.10" y1="626.50" x2="735.40" y2="626.50" stroke="#111" stroke-width="1.3"/>
<text x="576.40" y="637.90" font-size="13.3" text-anchor="start" textLength="12.6" lengthAdjust="spacingAndGlyphs">P5</text>
<text x="702.70" y="386.40" font-size="13.5" text-anchor="middle" style="stroke-width:0">*</text>
<text x="365.60" y="659.40" font-size="13.3" text-anchor="start" textLength="14.4" lengthAdjust="spacingAndGlyphs">(b)</text>
<path d="M233.8 689.2H554.0V902.1" fill="none" stroke="#111" stroke-width="1.05"/>
<line x1="233.80" y1="688.70" x2="233.80" y2="902.60" stroke="#111" stroke-width="1.05"/>
<line x1="228.00" y1="902.10" x2="554.50" y2="902.10" stroke="#111" stroke-width="1.05"/>
<line x1="228.00" y1="902.10" x2="233.80" y2="902.10" stroke="#111" stroke-width="1.05"/>
<text x="222.10" y="905.20" font-size="13.3" text-anchor="end" textLength="5.8" lengthAdjust="spacingAndGlyphs">0</text>
<line x1="228.00" y1="859.52" x2="233.80" y2="859.52" stroke="#111" stroke-width="1.05"/>
<text x="222.10" y="862.62" font-size="13.3" text-anchor="end" textLength="5.8" lengthAdjust="spacingAndGlyphs">2</text>
<line x1="228.00" y1="816.94" x2="233.80" y2="816.94" stroke="#111" stroke-width="1.05"/>
<text x="222.10" y="820.04" font-size="13.3" text-anchor="end" textLength="5.8" lengthAdjust="spacingAndGlyphs">4</text>
<line x1="228.00" y1="774.36" x2="233.80" y2="774.36" stroke="#111" stroke-width="1.05"/>
<text x="222.10" y="777.46" font-size="13.3" text-anchor="end" textLength="5.8" lengthAdjust="spacingAndGlyphs">6</text>
<line x1="228.00" y1="731.78" x2="233.80" y2="731.78" stroke="#111" stroke-width="1.05"/>
<text x="222.10" y="734.88" font-size="13.3" text-anchor="end" textLength="5.8" lengthAdjust="spacingAndGlyphs">8</text>
<line x1="228.00" y1="689.20" x2="233.80" y2="689.20" stroke="#111" stroke-width="1.05"/>
<text x="222.10" y="692.30" font-size="13.3" text-anchor="end" textLength="11.6" lengthAdjust="spacingAndGlyphs">10</text>
<line x1="233.80" y1="902.10" x2="233.80" y2="907.00" stroke="#111" stroke-width="1.05"/>
<text x="231.25" y="922.30" font-size="13.3" text-anchor="start" textLength="5.7" lengthAdjust="spacingAndGlyphs">0</text>
<line x1="393.90" y1="902.10" x2="393.90" y2="907.00" stroke="#111" stroke-width="1.05"/>
<text x="391.55" y="922.30" font-size="13.3" text-anchor="start" textLength="5.7" lengthAdjust="spacingAndGlyphs">5</text>
<line x1="554.00" y1="902.10" x2="554.00" y2="907.00" stroke="#111" stroke-width="1.05"/>
<text x="548.80" y="922.30" font-size="13.3" text-anchor="start" textLength="11.4" lengthAdjust="spacingAndGlyphs">10</text>
<polyline points="265.82,773.08 393.90,847.60 554.00,874.85" fill="none" stroke="#111" stroke-width="1.15"/>
<line x1="265.82" y1="732.63" x2="265.82" y2="813.32" stroke="#111" stroke-width="1.1"/>
<line x1="261.32" y1="732.63" x2="270.32" y2="732.63" stroke="#111" stroke-width="1.1"/>
<line x1="261.32" y1="813.32" x2="270.32" y2="813.32" stroke="#111" stroke-width="1.1"/>
<circle cx="265.82" cy="773.08" r="4.7" fill="#000"/>
<line x1="393.90" y1="837.17" x2="393.90" y2="857.82" stroke="#111" stroke-width="1.1"/>
<line x1="389.80" y1="837.17" x2="398.00" y2="837.17" stroke="#111" stroke-width="1.1"/>
<line x1="389.80" y1="857.82" x2="398.00" y2="857.82" stroke="#111" stroke-width="1.1"/>
<circle cx="393.90" cy="847.60" r="4.7" fill="#000"/>
<line x1="554.00" y1="864.84" x2="554.00" y2="884.43" stroke="#111" stroke-width="1.1"/>
<line x1="549.90" y1="864.84" x2="558.10" y2="864.84" stroke="#111" stroke-width="1.1"/>
<line x1="549.90" y1="884.43" x2="558.10" y2="884.43" stroke="#111" stroke-width="1.1"/>
<circle cx="554.00" cy="874.85" r="4.7" fill="#000"/>
<text x="270.30" y="682.60" font-size="13.3" text-anchor="start" textLength="244.6" lengthAdjust="spacingAndGlyphs">EphA5 mRNA(+VPA)/EphA5 mRNA( −VPA)</text>
<text x="199.70" y="830.10" font-size="13.3" text-anchor="start" textLength="69.2" lengthAdjust="spacingAndGlyphs" transform="rotate(-90 199.70 830.10)">Fold increase</text>
<text x="374.20" y="942.60" font-size="13.3" text-anchor="start" textLength="39.7" lengthAdjust="spacingAndGlyphs">Passage</text>
<text x="366.10" y="967.10" font-size="13.3" text-anchor="start" textLength="13.5" lengthAdjust="spacingAndGlyphs">(c)</text>
</svg>
</body></html>
